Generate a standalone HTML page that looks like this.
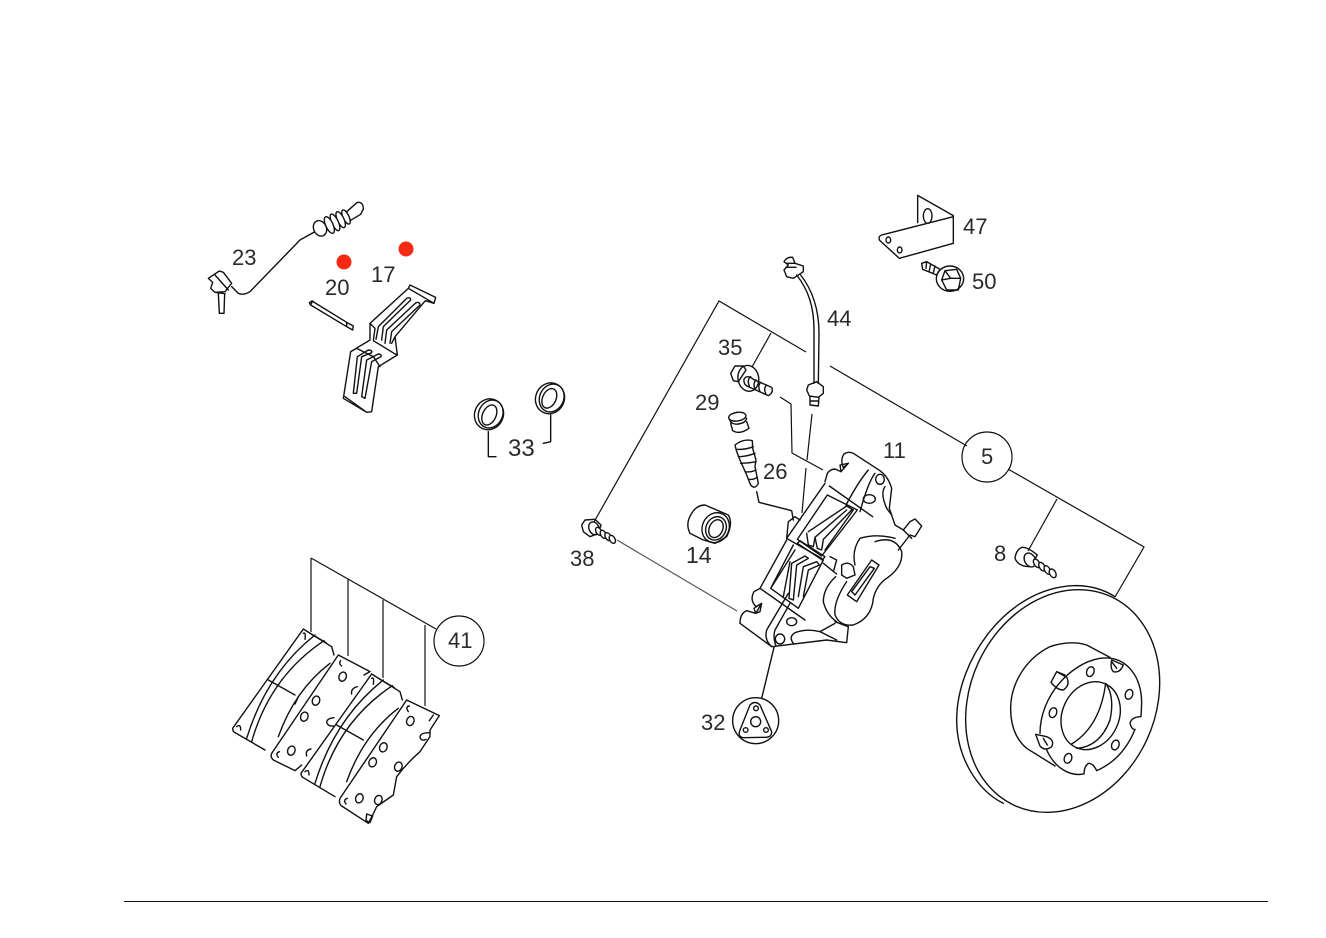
<!DOCTYPE html>
<html><head><meta charset="utf-8"><style>
html,body{margin:0;padding:0;background:#fff}
svg{display:block}
text{font-family:"Liberation Sans",sans-serif;font-size:22px;fill:#2a2a2a}
.d path,.d ellipse,.d circle{fill:none;stroke:#111;stroke-width:4.2;stroke-linejoin:round;stroke-linecap:round}
.d .w,.d .w path,.d .w ellipse{fill:#fff}
.l{fill:none;stroke:#111;stroke-width:1.2}
</style></head><body>
<svg width="1326" height="938" viewBox="0 0 1326 938" xmlns="http://www.w3.org/2000/svg">
<rect width="1326" height="938" fill="#fff"/>

<!-- leaders -->
<path class="l" d="M594 522L719 301L806 352M830 366L967 446M1008 469L1144 547L1115 597M1057 499L1028 551M771 333L752 367"/>
<path class="l" d="M617 540L737 611" stroke-opacity=".7"/>
<path class="l" d="M780 397L791 404L792 453L823 470M812 414L807 460M806 468L802 513"/>
<path class="l" d="M311 558V632M348 579V656M383 600V678M425 625V706M311 558L436 629" />
<circle class="l" cx="987" cy="457" r="25"/>
<circle class="l" cx="459" cy="641" r="25"/>
<path d="M124 901.5H1268" stroke="#111" stroke-width="1"/>

<!-- sensor 23 (zoom origin 200,195) -->
<g class="d" transform="translate(200 195) scale(.33333)">
<path d="M345 110L300 135L150 290Q130 302 115 295L95 275"/>
<path d="M25 250L58 228L70 232L95 265L75 290L45 292L32 280L38 262ZM45 240L85 285M45 292L75 296"/>
<path d="M55 296L58 355L72 355L74 296"/>
<g class="w">
<path d="M440 50L472 22Q490 20 490 42L482 58L445 80Z"/>
<ellipse cx="438" cy="66" rx="9" ry="23" transform="rotate(-25 438 66)"/>
<ellipse cx="422" cy="74" rx="10" ry="26" transform="rotate(-25 422 74)"/>
<ellipse cx="405" cy="82" rx="10" ry="27" transform="rotate(-25 405 82)"/>
<ellipse cx="388" cy="90" rx="11" ry="27" transform="rotate(-25 388 90)"/>
<ellipse cx="360" cy="100" rx="19" ry="24" transform="rotate(-25 360 100)"/>
</g>
</g>

<!-- left upper group (zoom 1 coordinates) -->
<g class="d" transform="translate(190 180) scale(.33333)">
<path d="M358 368L366 363L470 427L490 438L488 450L470 440L362 375ZM368 363L362 375M470 427L470 440"/>
<path d="M660 315L737 352L732 370L706 362L615 470L622 525L565 560L545 695L530 697L460 655L482 515L540 480L540 430L655 325ZM655 325L732 370M540 430L555 445L550 482L612 520L622 525M615 470L605 490M482 515L500 505L550 530L570 560M465 650L530 697"/>
<path d="M558 478L565 440L650 355Q662 350 662 360L580 440L575 480M585 490L590 450L678 368Q690 365 690 375L605 455L600 490"/>
<path d="M490 640L502 530L535 510Q548 510 545 518L515 530L500 640ZM515 650L530 540L565 522Q575 522 573 530L545 545L525 655Z"/>
<ellipse cx="897" cy="703" rx="43" ry="47" transform="rotate(25 897 703)" stroke-width="2.2"/>
<ellipse cx="902" cy="702" rx="36" ry="43" transform="rotate(25 902 702)" stroke-width="2.2"/>
<ellipse cx="898" cy="705" rx="20" ry="32" transform="rotate(25 898 705)" stroke-width="2.2"/>
<ellipse cx="1080" cy="655" rx="43" ry="47" transform="rotate(25 1080 655)" stroke-width="2.2"/>
<ellipse cx="1085" cy="654" rx="36" ry="43" transform="rotate(25 1085 654)" stroke-width="2.2"/>
<ellipse cx="1078" cy="655" rx="20" ry="31" transform="rotate(25 1078 655)" stroke-width="2.2"/>
<path d="M895 755V830H918M1082 705V785L1060 790" stroke-width="3"/>
</g>
<circle cx="344" cy="262" r="7.5" fill="#f52a14"/>
<circle cx="406" cy="249" r="7.5" fill="#f52a14"/>

<!-- centre upper group (zoom 2 coordinates) -->
<g class="d" transform="translate(560 180) scale(.33333)">
<path d="M1073 128V46L1180 107V190L1018 235L958 180Q955 168 965 165L1180 110"/>
<ellipse cx="1103" cy="108" rx="13" ry="22"/>
<ellipse cx="985" cy="180" rx="7" ry="9"/>
<ellipse cx="1019" cy="210" rx="7" ry="9"/>
<path d="M1085 250L1100 245L1140 268L1130 285L1088 268Z M1100 245L1098 265M1112 252L1108 272M1125 258L1120 278"/>
<ellipse cx="1170" cy="296" rx="41" ry="38"/>
<path d="M1145 300L1155 272L1190 268L1202 295L1195 330L1160 330ZM1155 272L1172 295L1145 300M1172 295L1202 295"/>
<path d="M710 285C745 330 762 380 762 450L762 610M722 285C757 330 777 390 777 460L775 610"/>
<path d="M672 245Q680 230 698 232L705 250L730 258L730 275L700 295L680 290L672 270L685 255ZM678 250L702 250M678 262L708 262"/>
<path d="M745 615L770 605L790 620L790 640L775 652L748 648L740 630ZM750 650L750 675L775 678L777 652M750 663H776"/>
</g>

<!-- bolt 35, springs 29 and 26 (origin 720,350) -->
<g class="d" transform="translate(720 350) scale(.33333)">
<path d="M32 70L45 48L70 48L78 60L55 95L40 92Z"/>
<ellipse cx="85" cy="85" rx="31" ry="39" transform="rotate(-10 85 85)"/>
<path d="M72 88Q80 72 100 88L155 112Q162 128 145 137L85 110Q70 105 72 88Z"/>
<path d="M92 80Q80 90 88 108M108 90Q98 100 105 118M122 97Q112 108 120 125M140 105Q130 115 137 130"/>
<ellipse cx="52" cy="200" rx="26" ry="13" transform="rotate(-8 52 200)"/>
<path d="M28 208Q35 225 55 222Q76 220 80 205M32 220L38 242Q60 255 87 235L80 215"/>
<path d="M45 285Q70 265 97 272L98 295L108 330L105 350L115 400Q105 420 92 405L80 375L60 330L50 305Z"/>
<path d="M48 298Q75 300 100 290M55 320Q80 320 105 310M62 340Q85 340 108 335M75 365Q92 368 108 360M85 388Q100 390 112 382"/>
</g>

<!-- caliper (origin 740,450) -->
<g class="d" transform="translate(740 450) scale(.33333)">
<path d="M50 125L57 157L155 182L160 210" stroke-width="3.4"/>
<path d="M255 95L262 70Q270 58 285 57L303 65L325 40L310 53Q300 30 312 12Q325 3 340 10L420 62Q445 80 455 115L448 175L465 225L490 240L510 215L525 207L545 228L525 260L510 255L475 300"/>
<path d="M303 65L300 45L325 40M490 240L515 265M385 60Q355 95 318 165M405 70Q385 95 360 185"/>
<ellipse cx="420" cy="88" rx="13" ry="15"/>
<ellipse cx="388" cy="147" rx="18" ry="13"/>
<path d="M435 110Q420 130 440 175L455 195"/>
<path d="M255 100L140 265L145 215L165 200L180 210M140 265L245 325M268 108L398 200"/>
<path d="M262 135L172 268L245 318L352 180Z"/>
<path d="M205 245L320 168L340 180L255 300M200 250L205 285L220 290L225 262L320 180M225 262L232 295L245 300L250 268L335 180"/>
<path d="M172 280L180 272L255 320L247 330Z"/>
<path d="M140 270L60 415M160 285L92 415M92 415L165 300M92 415L175 475L250 330M60 415L195 510"/>
<path d="M147 445L155 340L195 318L205 325L170 345L160 450ZM175 440L190 350L230 335L238 345L205 360L190 440M130 440L150 335"/>
<path d="M270 320L290 330L280 365M250 340L290 372"/>
<path d="M305 345Q325 332 340 350L345 375L320 385L305 375Z"/>
<path d="M465 265Q410 250 360 265Q335 300 345 345M405 275Q465 255 485 305Q490 350 440 385Q410 405 400 445Q395 505 340 525Q300 530 285 495Q280 455 320 395M287 380Q250 415 250 455Q260 495 290 515"/>
<path d="M395 330L417 345L350 455L322 435ZM390 350L403 355L345 435L335 425Z"/>
<path d="M0 520Q0 490 20 482L47 490L65 460L48 470Q28 450 42 425L60 415M47 490L42 475L65 460L60 485L47 490"/>
<path d="M0 520L95 590L260 570L320 578L325 530L285 515M95 590Q72 570 80 540L145 430M108 588Q98 560 105 540L150 460"/>
<ellipse cx="120" cy="567" rx="14" ry="15"/>
<ellipse cx="155" cy="515" rx="15" ry="12"/>
<path d="M160 580Q145 560 165 548Q200 535 240 545L285 520M240 545L290 570"/>
</g>

<!-- bushing 14, stud 32 (zoom 3 coordinates) -->
<g class="d" transform="translate(660 440) scale(.33333)">
<path d="M342 622L305 775"/>
<circle cx="287" cy="842" r="69"/>
<path d="M270 795Q285 780 300 795L335 875Q335 893 315 892L250 893Q232 890 240 870Z"/>
<circle cx="287" cy="845" r="15"/>
<circle cx="288" cy="805" r="7"/>
<circle cx="257" cy="870" r="7"/>
<circle cx="318" cy="870" r="7"/>
<path d="M135 195L205 225Q220 250 200 290L165 310L130 300L90 280Q75 250 95 220Q110 195 135 195Z"/>
<ellipse cx="167" cy="263" rx="40" ry="46" transform="rotate(25 167 263)"/>
<ellipse cx="168" cy="265" rx="30" ry="36" transform="rotate(25 168 265)" stroke-width="2.5"/>
<ellipse cx="168" cy="266" rx="20" ry="28" transform="rotate(25 168 266)" stroke-width="2.5"/>
</g>

<!-- bolt 38 (origin 570,510) -->
<g class="d" transform="translate(570 510) scale(.33333)">
<path d="M35 45L45 30L75 28L93 45L85 70L60 80L40 65Z"/>
<ellipse cx="72" cy="55" rx="15" ry="20" transform="rotate(-25 72 55)"/>
<g class="w">
<ellipse cx="86" cy="64" rx="8" ry="13" transform="rotate(-30 86 64)"/>
<ellipse cx="100" cy="73" rx="8" ry="13" transform="rotate(-30 100 73)"/>
<ellipse cx="114" cy="80" rx="8" ry="13" transform="rotate(-30 114 80)"/>
<ellipse cx="127" cy="88" rx="8" ry="13" transform="rotate(-30 127 88)"/>
</g>
</g>

<!-- pads (zoom 4 coordinates) -->
<g class="d" transform="translate(220 550) scale(.33333)">
<g>
<path d="M250 237L38 535Q38 545 45 548L135 600M250 237L335 290L342 315"/>
<path d="M285 255Q140 370 80 565M312 272Q150 380 95 575M270 250L318 278"/>
<path d="M145 390L225 435"/>
<path d="M50 530Q62 520 62 540M250 250Q258 245 255 268"/>
<path d="M330 340Q225 420 175 560"/>
</g>
<g transform="translate(205 135)">
<path d="M250 237L38 535Q38 545 45 548L140 605M250 237L335 290L342 315"/>
<path d="M285 255Q140 370 80 565M312 272Q150 380 95 575M270 250L318 278"/>
<path d="M145 390L225 435"/>
<path d="M50 530Q62 520 62 540M250 250Q258 245 255 268"/>
<path d="M330 340Q225 420 175 560"/>
</g>
<path d="M355 315L155 610Q150 620 160 630L225 662L245 645M355 315L450 365L432 375M235 440L225 462"/>
<ellipse cx="368" cy="380" rx="11" ry="14" transform="rotate(20 368 380)"/>
<ellipse cx="288" cy="452" rx="11" ry="14" transform="rotate(20 288 452)"/>
<ellipse cx="253" cy="500" rx="11" ry="14" transform="rotate(20 253 500)"/>
<ellipse cx="214" cy="602" rx="11" ry="14" transform="rotate(20 214 602)"/>
<path d="M362 332Q355 340 365 348M178 605Q165 610 175 622M273 597Q255 600 260 618M342 503Q320 505 320 518Q325 530 340 528M412 410Q392 415 395 432"/>
<path style="fill:#fff" d="M560 450L360 745Q355 760 365 768L445 820L458 795L470 770L520 735L530 680Q560 640 600 605L630 560L630 540L658 497ZM440 792L458 798L450 818L438 812Z"/>
<ellipse cx="571" cy="513" rx="11" ry="14" transform="rotate(20 571 513)"/>
<ellipse cx="490" cy="592" rx="11" ry="14" transform="rotate(20 490 592)"/>
<ellipse cx="458" cy="637" rx="11" ry="14" transform="rotate(20 458 637)"/>
<ellipse cx="535" cy="650" rx="11" ry="14" transform="rotate(20 535 650)"/>
<ellipse cx="418" cy="745" rx="11" ry="14" transform="rotate(20 418 745)"/>
<ellipse cx="475" cy="750" rx="11" ry="14" transform="rotate(20 475 750)"/>
<path d="M568 468Q555 470 565 485M382 745Q368 750 378 762M628 548Q600 548 600 562Q605 575 618 568M640 495L628 512"/>
</g>

<!-- bolt 8 + disc (zoom 5 coordinates) -->
<g class="d" transform="translate(940 520) scale(.33333)">
<path d="M525 230Q470 195 400 197C200 205 50 420 50 600C50 710 110 810 190 850"/>
<ellipse cx="368" cy="543" rx="278" ry="345" transform="rotate(25 368 543)"/>
<path d="M510 412L440 375Q390 360 330 380C250 420 210 500 212 570C213 620 230 660 260 685L345 738"/>
<path d="M300 640C300 530 390 430 480 415C560 405 605 470 605 550L603 590Q575 590 570 610Q575 630 585 628C560 690 520 730 470 752Q460 730 445 730Q432 740 432 762C390 770 345 745 320 690"/>
<ellipse cx="452" cy="587" rx="85" ry="105" transform="rotate(25 452 587)"/>
<path d="M395 672Q480 620 497 490M497 490Q525 530 510 600Q480 680 410 685"/>
<ellipse cx="451" cy="455" rx="11" ry="15" transform="rotate(20 451 455)"/>
<ellipse cx="567" cy="523" rx="11" ry="15" transform="rotate(20 567 523)"/>
<ellipse cx="339" cy="578" rx="11" ry="15" transform="rotate(20 339 578)"/>
<ellipse cx="384" cy="715" rx="11" ry="15" transform="rotate(20 384 715)"/>
<ellipse cx="526" cy="675" rx="11" ry="15" transform="rotate(20 526 675)"/>
<path d="M350 455L380 472Q392 495 370 510Q350 510 333 487ZM350 455L375 465"/>
<path d="M515 420L550 435Q540 460 520 455Q510 445 515 420M515 425L530 445"/>
<path d="M287 643L320 650Q345 660 335 680Q315 695 300 678ZM310 655L322 675"/>
<path d="M245 82Q262 80 292 105L270 140Q235 140 225 115Q228 90 245 82Z"/>
<g class="w">
<ellipse cx="270" cy="120" rx="16" ry="22" transform="rotate(-30 270 120)"/>
<ellipse cx="290" cy="130" rx="8" ry="14" transform="rotate(-30 290 130)"/>
<ellipse cx="306" cy="140" rx="8" ry="14" transform="rotate(-30 306 140)"/>
<ellipse cx="322" cy="150" rx="8" ry="14" transform="rotate(-30 322 150)"/>
<ellipse cx="338" cy="160" rx="9" ry="14" transform="rotate(-30 338 160)"/>
</g>
</g>

<!-- labels -->
<text x="232" y="265">23</text>
<text x="325" y="295">20</text>
<text x="371" y="282">17</text>
<text x="508" y="456" style="font-size:24px">33</text>
<text x="963" y="234">47</text>
<text x="972" y="289">50</text>
<text x="827" y="326">44</text>
<text x="718" y="355">35</text>
<text x="695" y="410">29</text>
<text x="763" y="479">26</text>
<text x="883" y="458">11</text>
<text x="981" y="464">5</text>
<text x="686" y="563" style="font-size:23px">14</text>
<text x="701" y="730">32</text>
<text x="570" y="566">38</text>
<text x="448" y="648">41</text>
<text x="994" y="561">8</text>
</svg>
</body></html>
